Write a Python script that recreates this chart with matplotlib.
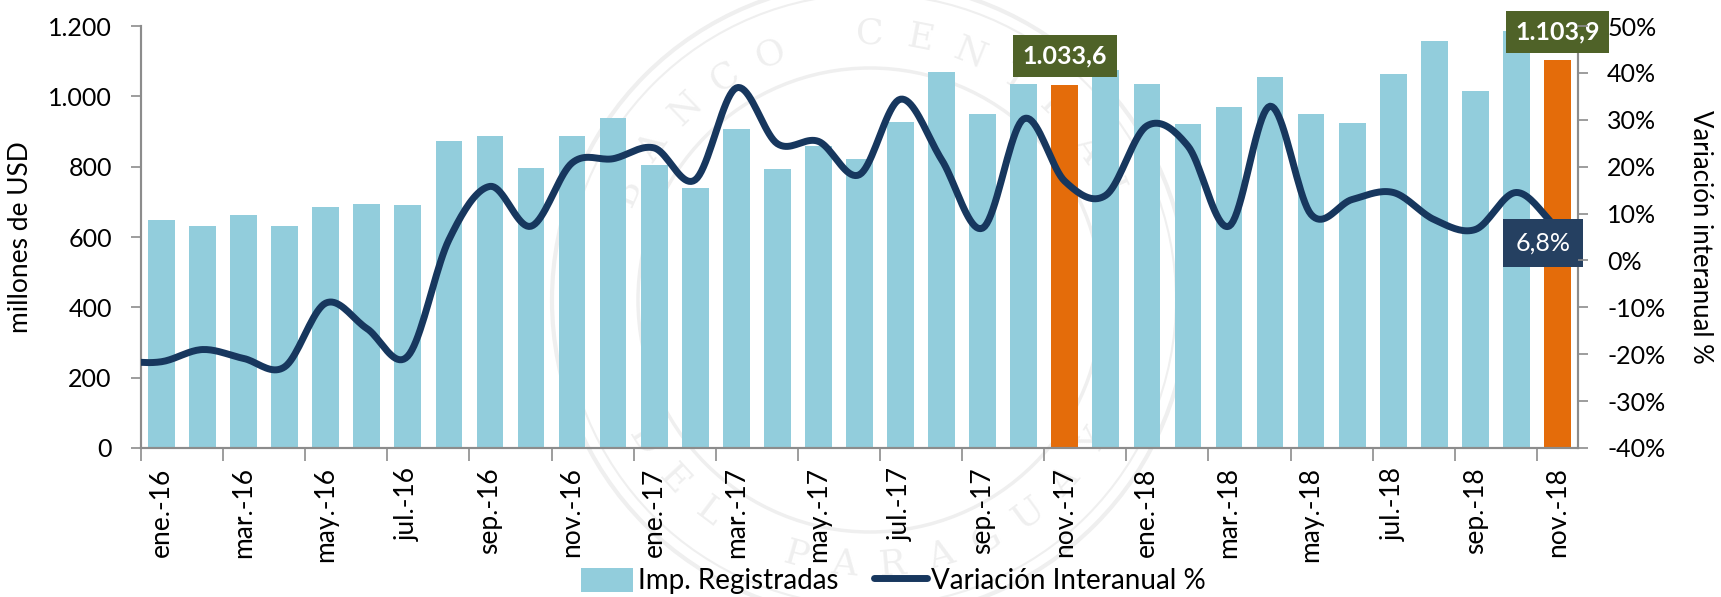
import numpy as np
import matplotlib
matplotlib.use("Agg")
import matplotlib.pyplot as plt
from matplotlib.lines import Line2D
from matplotlib.patches import Patch, Circle
from matplotlib.ticker import FuncFormatter

plt.rcParams['font.family'] = ['Lato', 'DejaVu Sans']

months = ["ene.-16", "feb.-16", "mar.-16", "abr.-16", "may.-16", "jun.-16", "jul.-16", "ago.-16",
          "sep.-16", "oct.-16", "nov.-16", "dic.-16",
          "ene.-17", "feb.-17", "mar.-17", "abr.-17", "may.-17", "jun.-17", "jul.-17", "ago.-17",
          "sep.-17", "oct.-17", "nov.-17", "dic.-17",
          "ene.-18", "feb.-18", "mar.-18", "abr.-18", "may.-18", "jun.-18", "jul.-18", "ago.-18",
          "sep.-18", "oct.-18", "nov.-18"]
imports = [649, 630, 663, 632, 686, 695, 690, 874, 888, 796, 887, 939,
           804, 740, 907, 793, 858, 822, 928, 1069, 950, 1035, 1033.6, 1076,
           1034, 922, 971, 1056, 950, 925, 1063, 1158, 1014, 1187, 1103.9]
variation = [-21.6, -19.0, -20.9, -22.7, -9.1, -14.5, -20.4, 4.4, 15.8, 7.3, 20.8, 21.7,
             24.0, 17.2, 36.8, 24.9, 25.4, 18.3, 34.4, 21.5, 6.9, 30.2, 16.9, 13.9,
             28.7, 24.4, 7.3, 32.9, 9.8, 13.0, 14.5, 8.7, 6.6, 14.5, 6.8]
highlight = ["nov.-17", "nov.-18"]

BAR = "#92CDDC"
ORANGE = "#E46C0A"
NAVY = "#17375E"
GREEN = "#4F6228"
BOXNAVY = "#254061"
GREY = "#8C8C8C"
WATERMARK = "#EFEFEF"


def fmt_es(v, dec=1):
    s = f"{v:,.{dec}f}"
    return s.replace(",", "X").replace(".", ",").replace("X", ".")


def smooth(x, y, n=20):
    x = np.asarray(x, float)
    y = np.asarray(y, float)
    px = np.concatenate([[2 * x[0] - x[1]], x, [2 * x[-1] - x[-2]]])
    py = np.concatenate([[y[0]], y, [2 * y[-1] - y[-2]]])
    xs, ys = [], []
    t = np.linspace(0, 1, n, endpoint=False)
    for i in range(1, len(px) - 2):
        for arr, src in ((xs, px), (ys, py)):
            a0, a1, a2, a3 = src[i - 1], src[i], src[i + 1], src[i + 2]
            arr.extend(0.5 * ((2 * a1) + (-a0 + a2) * t + (2 * a0 - 5 * a1 + 4 * a2 - a3) * t ** 2
                              + (-a0 + 3 * a1 - 3 * a2 + a3) * t ** 3))
    xs.append(x[-1])
    ys.append(y[-1])
    return np.array(xs), np.array(ys)


fig = plt.figure(figsize=(17.21, 5.97), dpi=100)

# faint seal watermark in the background
wm = fig.add_axes([0, 0, 1, 1], zorder=-10)
wm.set_xlim(0, 1721)
wm.set_ylim(597, 0)
wm.set_aspect('equal')
wm.axis('off')
for r, lw in ((318, 3), (306, 1.5), (232, 2.5)):
    wm.add_patch(Circle((870, 300), r, fill=False, ec=WATERMARK, lw=lw))
top_word, bottom_word = "BANCO CENTRAL", "DEL PARAGUAY"
for k, ch in enumerate(top_word):
    ang = np.deg2rad(156 - k * 11)
    wm.text(870 + 266 * np.cos(ang), 300 - 266 * np.sin(ang), ch, fontsize=26,
            family='DejaVu Serif', color=WATERMARK, ha='center', va='center',
            rotation=np.rad2deg(ang) - 90)
for k, ch in enumerate(bottom_word):
    ang = np.deg2rad(212 + k * 10.5)
    wm.text(870 + 266 * np.cos(ang), 300 - 266 * np.sin(ang), ch, fontsize=26,
            family='DejaVu Serif', color=WATERMARK, ha='center', va='center',
            rotation=np.rad2deg(ang) + 90)

ax = fig.add_axes([0.0819, 0.2496, 0.9169 - 0.0819, 0.9564 - 0.2496])
ax.patch.set_visible(False)
ax2 = ax.twinx()

x = np.arange(len(months))
colors = [ORANGE if m in highlight else BAR for m in months]
ax.bar(x, imports, width=0.65, color=colors, zorder=2)

# line continues flat to the left plot edge as in the original
sx, sy = smooth(np.concatenate([[x[0] - 1], x]), np.concatenate([[variation[0]], variation]))
ax2.plot(sx, sy, color=NAVY, lw=5, solid_capstyle='round', zorder=3, clip_on=True)

ax.set_xlim(-0.5, len(months) - 0.5)
ax.set_ylim(0, 1200)
ax2.set_ylim(-40, 50)
ax.set_yticks(np.arange(0, 1201, 200))
ax.yaxis.set_major_formatter(FuncFormatter(lambda v, p: f"{int(v):,}".replace(",", ".")))
ax2.set_yticks(np.arange(-40, 51, 10))
ax2.yaxis.set_major_formatter(FuncFormatter(lambda v, p: f"{int(v)}%"))

ax.set_xticks(np.arange(0, len(months), 2) - 0.5)
ax.set_xticklabels([])
ax.set_xticks(np.arange(0, len(months), 2), minor=True)
ax.set_xticklabels(months[::2], minor=True, rotation=90, fontsize=19)
ax.tick_params(axis='x', which='minor', length=0, pad=14)
ax.tick_params(axis='x', which='major', length=9, width=1.2, color=GREY)
ax.tick_params(axis='y', labelsize=18, length=7, width=1.2, color=GREY, pad=14)
ax2.tick_params(axis='y', labelsize=18, length=7, width=1.2, color=GREY, pad=14)
ax2.yaxis.set_zorder(11)

for a in (ax, ax2):
    a.spines['top'].set_visible(False)
    for s in ('left', 'right', 'bottom'):
        a.spines[s].set_color(GREY)
        a.spines[s].set_linewidth(1.5)

ax.set_ylabel("millones de USD", fontsize=19, labelpad=11)
ax2.set_ylabel("Variación interanual %", fontsize=18.5, rotation=270, labelpad=34)

ax2.set_zorder(ax.get_zorder() + 1)
ax2.patch.set_visible(False)

# value labels
i1 = months.index("nov.-17")
i2 = months.index("nov.-18")
box_green = dict(boxstyle='square,pad=0.38', fc=GREEN, ec='none')
ax.text(x[i1], 1115, fmt_es(imports[i1]), ha='center', va='center', fontsize=18,
        fontweight='bold', color='white', zorder=10, bbox=box_green)
ax2.text(x[i2], 48.8, fmt_es(imports[i2]), ha='center', va='center', fontsize=18,
         fontweight='bold', color='white', zorder=10, bbox=box_green)
ax2.text(x[i2] - 0.35, 3.8, fmt_es(variation[-1]) + "%", ha='center', va='center',
         fontsize=18, color='white', zorder=10,
         bbox=dict(boxstyle='square,pad=0.5', fc=BOXNAVY, ec='none'))

handles = [Patch(facecolor=BAR, edgecolor='none'),
           Line2D([0], [0], color=NAVY, lw=5, solid_capstyle='round')]
fig.legend(handles, ["Imp. Registradas", "Variación Interanual %"], loc='center',
           bbox_to_anchor=(0.519, 0.027), ncol=2, frameon=False, fontsize=20,
           handlelength=1.9, handleheight=0.95, columnspacing=1.3, handletextpad=0.15)

fig.savefig("out.png", dpi=100)
